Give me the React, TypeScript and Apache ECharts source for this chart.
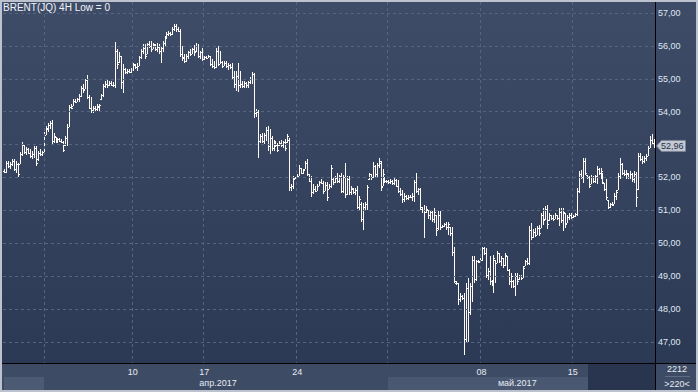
import React, { useEffect, useRef } from 'react';
import * as echarts from 'echarts';

// ---- Data (prices in USD) ----
const highs = [
  52.25,52.50,52.50,52.47,52.57,52.57,52.50,52.45,52.76,53.08,
  53.00,52.94,52.90,52.86,52.80,52.96,52.96,52.80,52.86,52.80,
  53.37,53.57,53.67,53.72,53.74,53.35,53.24,53.21,53.21,53.16,
  53.11,53.26,53.62,54.20,54.23,54.38,54.38,54.43,54.53,54.78,
  54.83,54.99,55.11,54.50,54.46,54.18,54.18,54.23,54.23,54.53,
  54.83,54.94,54.99,54.94,54.94,54.89,56.12,55.90,55.80,55.70,
  55.44,55.34,55.29,55.29,55.34,55.49,55.44,55.49,55.70,55.92,
  56.05,56.05,56.10,56.15,56.15,56.10,56.05,56.10,56.05,56.00,
  56.15,56.30,56.41,56.46,56.43,56.56,56.66,56.66,56.56,56.51,
  56.00,55.75,55.75,55.85,55.90,55.95,56.02,56.10,56.05,55.85,
  55.95,55.70,55.70,55.72,55.70,55.59,55.54,55.95,56.00,55.85,
  55.54,55.54,55.54,55.49,55.44,55.49,55.24,55.24,55.49,55.24,
  54.94,54.94,54.89,54.94,55.04,55.21,55.17,54.08,54.06,53.32,
  53.35,53.35,53.52,53.57,53.47,53.26,53.14,53.11,53.06,53.11,
  53.14,53.11,53.16,53.32,53.21,51.79,52.05,52.03,52.10,52.37,
  52.30,52.25,52.51,52.56,52.10,52.05,51.80,51.74,51.80,51.90,
  51.95,51.90,51.85,51.85,51.80,52.39,51.98,52.04,52.14,52.09,
  52.14,52.09,52.44,52.04,52.04,51.73,51.68,51.68,51.73,51.43,
  51.27,51.22,51.27,51.78,52.14,52.12,52.46,52.39,52.44,52.59,
  52.49,52.26,52.02,51.93,51.93,51.95,51.93,51.98,51.95,51.93,
  51.68,51.63,51.53,51.48,51.48,51.48,51.53,51.93,52.14,51.68,
  51.68,51.09,51.15,51.12,51.02,51.02,50.97,51.07,50.87,50.97,
  50.97,50.56,50.61,50.66,50.66,50.51,50.51,49.90,48.84,48.79,
  48.48,48.43,48.48,48.79,48.94,48.79,49.60,49.60,49.50,49.50,
  49.55,49.90,49.90,49.85,49.25,49.60,48.89,49.65,49.50,49.76,
  49.71,49.60,49.55,49.71,49.60,49.22,49.10,48.89,49.10,49.10,
  49.05,49.05,49.30,49.50,49.55,50.52,50.62,50.42,50.47,50.52,
  50.57,50.92,51.08,51.13,51.15,50.92,50.87,50.87,50.92,50.87,
  51.08,51.08,51.08,50.92,50.87,50.92,50.92,50.87,50.92,51.69,
  52.19,52.24,52.60,52.60,52.09,52.04,52.09,52.04,52.09,52.35,
  52.29,52.29,52.14,51.84,51.94,51.33,51.23,51.25,51.53,51.63,
  52.14,52.60,52.45,52.24,52.24,52.14,52.19,52.14,52.19,52.16,
  52.75,52.75,52.65,52.65,52.70,52.96,53.26,53.31,53.16,
];

const lows = [
  52.15,52.13,52.30,52.25,52.35,52.20,52.13,52.03,52.40,52.66,
  52.70,52.68,52.70,52.60,52.56,52.60,52.35,52.50,52.66,52.66,
  52.76,53.28,53.37,53.47,53.00,53.06,53.06,53.06,53.08,53.04,
  52.76,52.96,52.96,53.52,54.08,54.16,54.26,54.28,54.28,54.46,
  54.58,54.68,54.38,54.08,53.95,53.97,54.02,54.02,54.02,54.36,
  54.46,54.73,54.73,54.78,54.78,54.76,54.73,55.29,55.49,54.68,
  54.58,55.14,55.14,55.17,55.19,55.24,55.29,55.24,55.39,55.59,
  55.75,55.59,55.75,55.95,55.80,55.90,55.85,55.80,55.75,55.47,
  55.80,56.00,56.20,56.30,56.30,56.33,56.46,56.41,56.41,55.65,
  55.54,55.49,55.52,55.59,55.70,55.75,55.70,55.82,55.62,55.59,
  55.54,55.58,55.60,55.62,55.39,55.34,55.29,55.34,55.39,55.44,
  55.34,55.39,55.32,55.27,55.29,54.99,54.73,54.63,54.60,54.73,
  54.71,54.73,54.71,54.73,54.83,54.83,53.82,53.85,52.58,53.06,
  53.06,53.01,53.11,52.81,52.71,52.81,52.81,52.94,52.76,52.96,
  52.94,52.89,52.81,53.06,51.59,51.59,51.64,51.95,52.00,52.05,
  52.10,52.10,52.25,52.05,51.85,51.42,51.49,51.56,51.59,51.74,
  51.80,51.49,51.59,51.29,51.64,51.68,51.78,51.83,51.83,51.83,
  51.53,51.53,51.38,51.48,51.48,51.48,51.50,51.48,51.04,50.97,
  50.66,50.41,50.97,51.02,51.93,51.93,51.98,51.98,51.98,52.29,
  51.58,51.73,51.83,51.83,51.81,51.81,51.78,51.78,51.71,51.53,
  51.43,51.22,51.27,51.32,51.32,51.38,51.30,51.27,51.53,51.48,
  51.02,50.92,50.16,50.92,50.75,50.72,50.66,50.61,50.21,50.41,
  50.41,50.46,50.51,50.41,50.26,50.21,49.60,48.79,48.74,48.13,
  48.23,48.28,46.60,47.01,47.01,47.82,48.23,48.79,48.84,49.40,
  49.45,49.45,49.65,48.95,48.89,48.74,48.69,48.49,48.79,49.40,
  49.40,49.30,49.25,49.30,49.15,48.74,48.64,48.64,48.39,48.74,
  48.89,48.89,48.94,49.30,49.35,49.35,50.11,50.16,50.19,50.26,
  50.21,50.47,50.57,50.72,50.42,50.67,50.72,50.67,50.74,50.72,
  50.52,50.62,50.37,50.47,50.62,50.72,50.74,50.77,50.80,50.82,
  51.54,51.94,51.84,52.09,51.94,51.69,51.79,51.84,51.84,51.79,
  52.09,51.94,51.79,51.58,51.33,51.03,51.08,51.13,51.18,51.33,
  51.63,51.94,52.09,52.04,51.94,51.94,51.94,51.87,51.84,51.11,
  51.63,52.50,52.40,52.45,52.50,52.65,52.91,53.01,52.91,
];

const opens = [
  52.20,52.18,52.45,52.35,52.42,52.50,52.25,52.40,52.42,52.70,
  52.98,52.78,52.88,52.75,52.65,52.72,52.90,52.55,52.75,52.70,
  52.78,53.30,53.48,53.60,53.65,53.10,53.22,53.12,53.17,53.12,
  53.08,52.98,53.20,53.55,54.15,54.18,54.32,54.30,54.38,54.48,
  54.72,54.70,54.95,54.45,54.12,54.05,54.10,54.08,54.15,54.38,
  54.50,54.78,54.85,54.80,54.88,54.82,54.80,55.85,55.50,55.70,
  54.90,55.30,55.20,55.25,55.20,55.30,55.42,55.35,55.40,55.65,
  55.85,55.95,55.75,56.05,56.00,55.92,56.02,55.92,55.98,55.85,
  55.95,56.10,56.25,56.35,56.40,56.35,56.50,56.60,56.50,56.45,
  55.75,55.62,55.55,55.70,55.80,55.75,55.90,55.85,56.00,55.70,
  55.80,55.62,55.65,55.62,55.68,55.45,55.40,55.35,55.85,55.45,
  55.50,55.40,55.48,55.38,55.42,55.35,55.05,54.85,55.10,54.80,
  54.85,54.78,54.88,54.80,54.90,55.00,55.15,53.95,54.00,53.10,
  53.25,53.12,53.30,53.45,52.95,53.20,52.90,53.05,53.00,52.98,
  53.05,53.00,53.08,53.08,53.15,51.70,51.75,51.98,52.02,52.05,
  52.28,52.15,52.25,52.45,52.10,51.90,51.55,51.65,51.60,51.75,
  51.85,51.82,51.60,51.78,51.65,51.75,51.95,51.85,51.98,51.90,
  52.05,51.60,52.00,51.50,51.95,51.55,51.66,51.55,51.62,51.10,
  51.20,50.75,51.10,51.20,51.95,52.10,52.00,52.35,52.10,52.38,
  52.45,51.75,51.95,51.90,51.88,51.85,51.90,51.82,51.92,51.75,
  51.60,51.50,51.35,51.45,51.38,51.42,51.40,51.45,51.85,51.60,
  51.65,51.05,51.00,50.95,51.00,50.85,50.95,50.75,50.87,50.45,
  50.85,50.50,50.52,50.58,50.50,50.50,50.30,49.75,48.80,48.78,
  48.30,48.40,48.33,47.10,48.65,47.90,48.70,49.50,48.90,49.45,
  49.45,49.50,49.85,49.70,49.05,49.15,48.85,48.75,49.50,49.40,
  49.70,49.45,49.55,49.35,49.60,49.20,48.85,48.85,48.70,49.00,
  48.90,49.00,48.95,49.30,49.45,49.40,50.40,50.20,50.35,50.25,
  50.45,50.48,50.85,50.75,51.05,50.70,50.85,50.78,50.75,50.85,
  50.78,50.95,50.70,50.92,50.62,50.80,50.85,50.80,50.82,50.88,
  51.60,52.10,52.00,52.50,52.08,52.00,51.80,52.00,51.90,52.05,
  52.25,52.15,52.10,51.82,51.65,51.33,51.10,51.18,51.20,51.45,
  51.63,52.05,52.40,52.15,52.10,52.12,52.00,52.12,51.95,52.10,
  51.65,52.65,52.55,52.50,52.58,52.65,52.90,53.15,53.05,
];

const closes = [
  52.18,52.45,52.35,52.42,52.50,52.25,52.40,52.10,52.70,53.00,
  52.78,52.88,52.75,52.65,52.72,52.90,52.45,52.75,52.70,52.76,
  53.30,53.50,53.60,53.65,53.10,53.25,53.12,53.18,53.12,53.08,
  52.85,53.20,53.55,54.15,54.12,54.32,54.30,54.38,54.48,54.72,
  54.65,54.95,54.45,54.12,54.05,54.10,54.08,54.18,54.20,54.50,
  54.78,54.85,54.80,54.88,54.82,54.80,55.85,55.45,55.70,54.90,
  55.30,55.20,55.25,55.20,55.30,55.45,55.35,55.40,55.65,55.85,
  55.95,55.70,56.05,56.00,55.90,56.05,55.92,55.98,55.85,55.95,
  56.10,56.25,56.35,56.40,56.35,56.50,56.60,56.50,56.45,55.75,
  55.65,55.55,55.70,55.80,55.75,55.90,55.80,56.00,55.70,55.80,
  55.60,55.65,55.62,55.68,55.45,55.40,55.35,55.85,55.45,55.50,
  55.40,55.48,55.38,55.42,55.35,55.05,54.85,55.10,54.80,54.85,
  54.78,54.88,54.80,54.90,55.00,55.15,53.95,54.00,53.10,53.25,
  53.12,53.30,53.45,52.95,53.20,52.90,53.05,53.00,52.85,53.05,
  53.00,53.08,52.90,53.25,51.70,51.75,51.95,52.00,52.05,52.30,
  52.15,52.22,52.45,52.10,51.90,51.55,51.65,51.60,51.75,51.85,
  51.82,51.60,51.78,51.40,51.75,52.30,51.85,51.98,51.90,52.05,
  51.60,52.00,51.50,51.95,51.55,51.68,51.55,51.62,51.10,51.35,
  50.75,51.10,51.20,51.70,52.10,52.00,52.35,52.10,52.38,52.50,
  51.70,52.10,51.90,51.88,51.85,51.90,51.82,51.92,51.75,51.60,
  51.50,51.35,51.45,51.38,51.42,51.40,51.45,51.85,51.60,51.65,
  51.10,51.00,50.95,51.05,50.85,50.95,50.75,50.95,50.40,50.85,
  50.50,50.52,50.58,50.50,50.60,50.30,49.75,48.85,48.78,48.30,
  48.40,48.33,47.10,48.65,47.90,48.70,49.50,48.90,49.45,49.42,
  49.50,49.85,49.70,49.05,49.15,48.85,48.75,49.55,49.40,49.70,
  49.45,49.55,49.35,49.65,49.20,48.85,49.00,48.70,49.00,48.85,
  49.00,48.95,49.25,49.45,49.40,50.40,50.20,50.35,50.25,50.45,
  50.30,50.85,50.70,51.05,50.60,50.85,50.78,50.75,50.85,50.78,
  50.95,50.70,50.95,50.60,50.80,50.85,50.78,50.82,50.88,51.60,
  52.10,52.00,52.50,52.15,52.00,51.75,52.00,51.90,52.05,52.25,
  52.15,52.20,51.85,51.65,51.40,51.10,51.18,51.15,51.45,51.55,
  52.05,52.40,52.15,52.10,52.15,52.00,52.12,51.95,52.10,51.40,
  52.65,52.55,52.50,52.58,52.65,52.90,53.15,53.05,52.96,
];

// one category per 4H bar
const categories = closes.map((_, i) => 'bar' + i);

// week boundaries (bar index where a new week starts) and their day labels
const weekStartIdx = [21, 65, 101, 148, 194, 241, 287];
const weekLabels = ['', '10', '17', '24', '', '08', '15'];
// month captions
const monthIdx = [108, 259];
const monthLabels = ['апр.2017', 'май.2017'];

const titleText = 'BRENT(JQ) 4H Low = 0';
const footerTop = '2212';
const footerBottom = '>220<';

const yMin = 46.362;
const yMax = 57.334;

const FONT = '"Liberation Sans", Arial, sans-serif';
const fmtPrice = (v: number) => v.toFixed(2).replace('.', ',');

export default function App() {
  const ref = useRef<HTMLDivElement>(null);

  useEffect(() => {
    if (!ref.current) return;
    const chart = echarts.init(ref.current, null, { renderer: 'svg' });

    const data = categories.map((_, i) => [i, opens[i], highs[i], lows[i], closes[i]]);
    const last = closes[closes.length - 1];

    const option: any = {
      animation: false,
      backgroundColor: new echarts.graphic.LinearGradient(0, 0, 0, 1, [
        { offset: 0, color: '#3f4c67' },
        { offset: 1, color: '#2b3853' },
      ]),
      grid: { left: 3, right: 43, top: 2, bottom: 29, containLabel: false },
      xAxis: [
        {
          type: 'category',
          data: categories,
          position: 'bottom',
          z: 10,
          boundaryGap: true,
          axisLine: { show: false },
          axisTick: { show: false },
          axisLabel: {
            interval: (idx: number) => {
              const k = weekStartIdx.indexOf(idx);
              return k >= 0 && weekLabels[k] !== '';
            },
            formatter: (_v: string, idx: number) => {
              const k = weekStartIdx.indexOf(idx);
              return k >= 0 ? weekLabels[k] : '';
            },
            color: '#e6ebf3',
            fontSize: 9,
            fontFamily: FONT,
            margin: 4,
            hideOverlap: false,
          },
          splitLine: {
            show: true,
            interval: (idx: number) => weekStartIdx.indexOf(idx) >= 0,
            lineStyle: { color: '#56647e', type: [3, 3], width: 1 },
          },
        },
        {
          type: 'category',
          data: categories,
          position: 'bottom',
          z: 10,
          boundaryGap: true,
          axisLine: { show: false },
          axisTick: { show: false },
          splitLine: { show: false },
          axisLabel: {
            interval: (idx: number) => monthIdx.indexOf(idx) >= 0,
            formatter: (_v: string, idx: number) => {
              const k = monthIdx.indexOf(idx);
              return k >= 0 ? monthLabels[k] : '';
            },
            color: '#e6ebf3',
            fontSize: 9,
            fontFamily: FONT,
            margin: 15,
            hideOverlap: false,
          },
        },
      ],
      yAxis: {
        type: 'value',
        position: 'right',
        min: yMin,
        max: yMax,
        splitNumber: 10,
        z: 10,
        axisLine: { show: false },
        axisTick: { show: false },
        axisLabel: {
          // the level hidden under the last-price tag is not printed
          formatter: (v: number) => (Math.abs(v - last) < 0.2 ? '' : fmtPrice(v)),
          showMinLabel: false,
          showMaxLabel: false,
          color: '#dfe7f4',
          fontSize: 9,
          fontFamily: FONT,
          margin: 3,
        },
        splitLine: {
          show: true,
          showMinLine: false,
          showMaxLine: false,
          lineStyle: { color: '#56647e', type: [3, 3], width: 1 },
        },
      },
      series: [
        {
          type: 'custom',
          clip: true,
          encode: { x: 0, y: [1, 2, 3, 4] },
          data,
          renderItem: (_params: any, api: any) => {
            const i = api.value(0);
            const o = api.coord([i, api.value(1)]);
            const h = api.coord([i, api.value(2)]);
            const l = api.coord([i, api.value(3)]);
            const c = api.coord([i, api.value(4)]);
            const x = Math.round(h[0]);
            const yh = Math.round(h[1]);
            const yl = Math.round(l[1]);
            const fill = '#fffaf6';
            return {
              type: 'group',
              children: [
                { type: 'rect', shape: { x, y: yh, width: 1, height: Math.max(1, yl - yh) }, style: { fill } },
                { type: 'rect', shape: { x: x - 1, y: Math.round(o[1]), width: 1, height: 1 }, style: { fill } },
                { type: 'rect', shape: { x: x + 1, y: Math.round(c[1]), width: 1, height: 1 }, style: { fill } },
              ],
            };
          },
        },
      ],
    };

    chart.setOption(option);

    const py = chart.convertToPixel({ yAxisIndex: 0 }, last) as number;

    const graphic: any[] = [
      // bottom axis band
      { type: 'rect', z: 1, silent: true, shape: { x: 0, y: 363, width: 698, height: 29 }, style: { fill: '#3e4b65' } },
      { type: 'rect', z: 1, silent: true, shape: { x: 4, y: 377, width: 40, height: 14 }, style: { fill: '#4d5a73' } },
      { type: 'rect', z: 1, silent: true, shape: { x: 388, y: 377, width: 200, height: 14 }, style: { fill: '#4a5770' } },
      { type: 'rect', z: 1, silent: true, shape: { x: 588, y: 364, width: 67, height: 27 }, style: { fill: '#29354e' } },
      // black frame lines
      { type: 'line', z: 30, silent: true, shape: { x1: 0, y1: 363.5, x2: 698, y2: 363.5 }, style: { stroke: '#000000', lineWidth: 1 } },
      { type: 'line', z: 30, silent: true, shape: { x1: 655.5, y1: 0, x2: 655.5, y2: 392 }, style: { stroke: '#000000', lineWidth: 1 } },
      // last price tag
      {
        type: 'polygon', z: 40, silent: true,
        shape: { points: [[656.5, py], [661.5, py - 5.5], [685.5, py - 5.5], [685.5, py + 5.5], [661.5, py + 5.5]] },
        style: { fill: '#c4c9d2', stroke: '#7d8697', lineWidth: 1 },
      },
      {
        type: 'text', z: 41, silent: true, x: 661, y: py,
        style: { text: fmtPrice(last), fill: '#23304a', font: `9px ${FONT}`, textVerticalAlign: 'middle', textAlign: 'left' },
      },
      // footer in bottom-right
      {
        type: 'text', z: 41, silent: true, x: 677, y: 369,
        style: { text: footerTop, fill: '#e6ebf3', font: `9px ${FONT}`, textVerticalAlign: 'middle', textAlign: 'center' },
      },
      { type: 'line', z: 41, silent: true, shape: { x1: 665, y1: 376.5, x2: 690, y2: 376.5 }, style: { stroke: '#5f6b82', lineWidth: 1 } },
      {
        type: 'text', z: 41, silent: true, x: 677, y: 384,
        style: { text: footerBottom, fill: '#e6ebf3', font: `9px ${FONT}`, textVerticalAlign: 'middle', textAlign: 'center' },
      },
      // title
      {
        type: 'text', z: 41, silent: true, x: 3, y: 2,
        style: { text: titleText, fill: '#f0f4fa', font: `10px ${FONT}`, textVerticalAlign: 'top', textAlign: 'left' },
      },
      // outer border
      {
        type: 'rect', z: 50, silent: true,
        shape: { x: 1, y: 1, width: 696, height: 390 },
        style: { fill: 'none', stroke: '#bcc3ce', lineWidth: 2 },
      },
    ];

    chart.setOption({ graphic });

    return () => chart.dispose();
  }, []);

  return (
    <div
      ref={ref}
      style={{ width: 698, height: 392, position: 'absolute', left: 0, top: 0 }}
    />
  );
}
